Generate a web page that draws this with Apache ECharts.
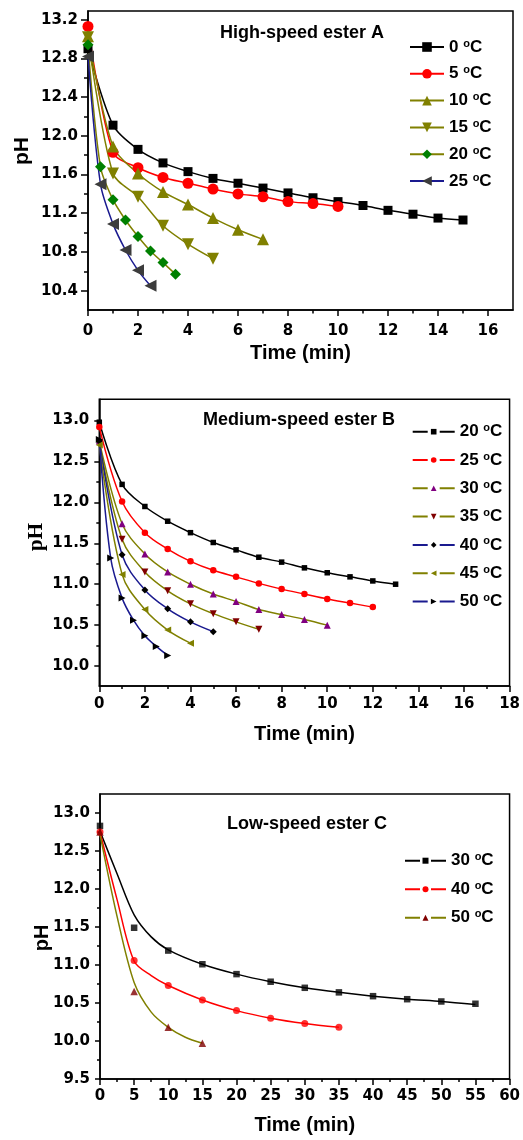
<!DOCTYPE html>
<html>
<head>
<meta charset="utf-8">
<script src="https://cdn.jsdelivr.net/npm/echarts@6/dist/echarts.min.js"></script>
<style>
  html, body { margin: 0; padding: 0; background: #fff; width: 523px; height: 1140px; overflow: hidden; }
  .panel { position: absolute; left: 0; width: 523px; }
</style>
</head>
<body>
<div id="panelA" class="panel" style="top:0;height:380px"></div>
<div id="panelB" class="panel" style="top:380px;height:385px"></div>
<div id="panelC" class="panel" style="top:765px;height:375px"></div>
<script>
// ---------- High-speed ester A ----------
const A_T_0 = [0, 1, 2, 3, 4, 5, 6, 7, 8, 9, 10, 11, 12, 13, 14, 15];
const A_PH_0 = [12.90, 12.11, 11.86, 11.72, 11.63, 11.56, 11.51, 11.46, 11.41, 11.36, 11.32, 11.28, 11.23, 11.19, 11.15, 11.13];
const A_T_5 = [0, 1, 2, 3, 4, 5, 6, 7, 8, 9, 10];
const A_PH_5 = [13.13, 11.83, 11.67, 11.57, 11.51, 11.45, 11.40, 11.37, 11.32, 11.30, 11.27];
const A_T_10 = [0, 1, 2, 3, 4, 5, 6, 7];
const A_PH_10 = [13.03, 11.89, 11.61, 11.42, 11.29, 11.15, 11.03, 10.93];
const A_T_15 = [0, 1, 2, 3, 4, 5];
const A_PH_15 = [13.02, 11.61, 11.37, 11.07, 10.88, 10.73];
const A_T_20 = [0, 0.5, 1, 1.5, 2, 2.5, 3, 3.5];
const A_PH_20 = [12.94, 11.68, 11.34, 11.13, 10.96, 10.81, 10.69, 10.57];
const A_T_25 = [0, 0.5, 1, 1.5, 2, 2.5];
const A_PH_25 = [12.82, 11.50, 11.09, 10.82, 10.61, 10.45];
const A_X_TICKS = [0, 2, 4, 6, 8, 10, 12, 14, 16];
const A_X_MINOR = [1, 3, 5, 7, 9, 11, 13, 15];
const A_Y_TICKS = [10.4, 10.8, 11.2, 11.6, 12.0, 12.4, 12.8, 13.2];
const A_Y_MINOR = [10.6, 11.0, 11.4, 11.8, 12.2, 12.6, 13.0];

// ---------- Medium-speed ester B ----------
const B_T_20 = [0, 1, 2, 3, 4, 5, 6, 7, 8, 9, 10, 11, 12, 13];
const B_PH_20 = [12.98, 12.22, 11.95, 11.77, 11.63, 11.51, 11.42, 11.33, 11.27, 11.20, 11.14, 11.09, 11.04, 11.00];
const B_T_25 = [0, 1, 2, 3, 4, 5, 6, 7, 8, 9, 10, 11, 12];
const B_PH_25 = [12.92, 12.01, 11.63, 11.43, 11.28, 11.17, 11.09, 11.01, 10.94, 10.88, 10.82, 10.77, 10.72];
const B_T_30 = [0, 1, 2, 3, 4, 5, 6, 7, 8, 9, 10];
const B_PH_30 = [12.75, 11.74, 11.37, 11.15, 11.00, 10.88, 10.79, 10.69, 10.63, 10.57, 10.50];
const B_T_35 = [0, 1, 2, 3, 4, 5, 6, 7];
const B_PH_35 = [12.73, 11.55, 11.15, 10.92, 10.76, 10.64, 10.54, 10.45];
const B_T_40 = [0, 1, 2, 3, 4, 5];
const B_PH_40 = [12.75, 11.36, 10.93, 10.70, 10.54, 10.42];
const B_T_45 = [0, 1, 2, 3, 4];
const B_PH_45 = [12.70, 11.12, 10.69, 10.44, 10.28];
const B_T_50 = [0, 0.5, 1, 1.5, 2, 2.5, 3];
const B_PH_50 = [12.77, 11.32, 10.83, 10.56, 10.37, 10.24, 10.13];
const B_X_TICKS = [0, 2, 4, 6, 8, 10, 12, 14, 16, 18];
const B_X_MINOR = [1, 3, 5, 7, 9, 11, 13, 15, 17];
const B_Y_TICKS = [10.0, 10.5, 11.0, 11.5, 12.0, 12.5, 13.0];
const B_Y_MINOR = [10.25, 10.75, 11.25, 11.75, 12.25, 12.75];

// ---------- Low-speed ester C (measured points and fitted curves) ----------
const C_T_30 = [0, 5, 10, 15, 20, 25, 30, 35, 40, 45, 50, 55];
const C_PH_30 = [12.83, 11.49, 11.19, 11.01, 10.88, 10.78, 10.70, 10.64, 10.59, 10.55, 10.52, 10.49];
const C_T_40 = [0, 5, 10, 15, 20, 25, 30, 35];
const C_PH_40 = [12.75, 11.06, 10.73, 10.54, 10.40, 10.30, 10.23, 10.18];
const C_T_50 = [0, 5, 10, 15];
const C_PH_50 = [12.75, 10.65, 10.18, 9.97];
const C_FIT_T_30 = [0, 2.5, 5, 7.5, 10, 15, 20, 25, 30, 35, 40, 45, 50, 55];
const C_FIT_30 = [12.76, 12.20, 11.66, 11.37, 11.20, 11.01, 10.88, 10.78, 10.70, 10.64, 10.59, 10.55, 10.52, 10.48];
const C_FIT_T_40 = [0, 2.5, 5, 7.5, 10, 15, 20, 25, 30, 35];
const C_FIT_40 = [12.75, 11.86, 11.05, 10.86, 10.73, 10.54, 10.40, 10.30, 10.23, 10.18];
const C_FIT_T_50 = [0, 2.5, 5, 7.5, 10, 12.5, 15];
const C_FIT_50 = [12.72, 11.64, 10.77, 10.38, 10.18, 10.05, 9.97];
const C_X_TICKS = [0, 5, 10, 15, 20, 25, 30, 35, 40, 45, 50, 55, 60];
const C_X_MINOR = [2.5, 7.5, 12.5, 17.5, 22.5, 27.5, 32.5, 37.5, 42.5, 47.5, 52.5, 57.5];
const C_Y_TICKS = [9.5, 10.0, 10.5, 11.0, 11.5, 12.0, 12.5, 13.0];
const C_Y_MINOR = [9.75, 10.25, 10.75, 11.25, 11.75, 12.25, 12.75];

const SANS = '"Liberation Sans", Arial, Helvetica, sans-serif';
const WIDE = '"DejaVu Sans", Verdana, sans-serif';
const SERIF = '"Liberation Serif", "Times New Roman", serif';
const BLACK = '#000000', RED = '#ff0000', OLIVE = '#808000', GREEN = '#008000',
      NAVY = '#1a1a8f', GRAY = '#3c3c3c', PURPLE = '#800080', MAROON = '#800000';

const pairs = (t, v) => t.map((x, i) => [x, v[i]]);

// Main axis (labels + major ticks) and an overlaid axis carrying the minor ticks.
function axes(kind, min, max, majors, minors, cfg) {
  const base = {
    type: 'value', min, max, gridIndex: 0, offset: 0,
    position: kind === 'x' ? 'bottom' : 'left',
    splitLine: { show: false }, silent: true
  };
  const main = Object.assign({}, base, {
    axisLine: { show: true, onZero: false, lineStyle: { color: BLACK, width: 1.5 } },
    axisTick: { show: true, inside: false, customValues: majors, length: cfg.major,
                lineStyle: { color: BLACK, width: 1.5 } },
    axisLabel: { show: true, customValues: majors, margin: cfg.margin, formatter: cfg.fmt,
                 color: BLACK, fontSize: 15, fontWeight: 'bold', fontFamily: WIDE },
    name: cfg.name || '', nameLocation: 'middle', nameGap: cfg.nameGap || 0,
    nameTextStyle: { fontSize: 20, fontWeight: 'bold', fontFamily: SANS, color: BLACK }
  });
  const minor = Object.assign({}, base, {
    axisLine: { show: false, onZero: false },
    axisTick: { show: true, inside: false, customValues: minors, length: cfg.minor,
                lineStyle: { color: BLACK, width: 1.5 } },
    axisLabel: { show: false }
  });
  return [main, minor];
}

function lineSeries(name, t, v, o) {
  return {
    type: 'line', name, data: pairs(t, v),
    symbol: o.symbol, symbolSize: o.size, symbolRotate: o.rot || 0,
    showSymbol: o.showSymbol !== false,
    smooth: o.smooth,
    lineStyle: { color: o.line, width: 1.5 },
    itemStyle: { color: o.mark },
    animation: false, silent: true, clip: true
  };
}

function legendText(name) {
  const num = name.split(' ')[0];
  return '{t|' + num + ' }{o|o}{t|C}';
}

function legend(names, left, top, w, h, gap, dashed) {
  const lg = {
    data: names, orient: 'vertical', left, top, itemWidth: w, itemHeight: h, itemGap: gap,
    padding: 0, selectedMode: false, formatter: legendText,
    textStyle: {
      rich: {
        t: { fontSize: 17, fontWeight: 'bold', fontFamily: SANS, color: BLACK, lineHeight: 18 },
        o: { fontSize: 11, fontWeight: 'bold', fontFamily: SANS, color: BLACK, lineHeight: 18, verticalAlign: 'top' }
      }
    }
  };
  if (dashed) lg.lineStyle = { type: dashed };
  return lg;
}

function title(text, left, top) {
  return { text, left, top, padding: 0,
           textStyle: { fontSize: 18, fontWeight: 'bold', fontFamily: SANS, color: BLACK } };
}

function yName(x, y, font) {
  return { type: 'text', x, y, rotation: Math.PI / 2, silent: true,
           style: { text: 'pH', font, fill: BLACK, align: 'center', verticalAlign: 'middle' } };
}

const fmt1 = v => v.toFixed(1);
const fmt0 = v => String(v);

// ---------- Panel A ----------
const chartA = echarts.init(document.getElementById('panelA'), null, { renderer: 'canvas' });
const axA_x = axes('x', 0, 17, A_X_TICKS, A_X_MINOR, { major: 6, minor: 3.5, margin: 14, fmt: fmt0, name: 'Time (min)', nameGap: 27 });
const axA_y = axes('y', 10.2, 13.29, A_Y_TICKS, A_Y_MINOR, { major: 7, minor: 4, margin: 10, fmt: fmt1 });
chartA.setOption({
  animation: false,
  title: title('High-speed ester A', 220, 24),
  grid: { left: 88, top: 11, width: 425, height: 299, show: true, borderColor: BLACK, borderWidth: 1.5, containLabel: false },
  xAxis: axA_x, yAxis: axA_y,
  legend: legend(['0 °C', '5 °C', '10 °C', '15 °C', '20 °C', '25 °C'], 409, 38, 34, 12, 9.3, null),
  graphic: [yName(22, 151, 'bold 21px ' + SANS)],
  series: [
    lineSeries('0 °C', A_T_0, A_PH_0, { symbol: 'rect', size: 9, line: BLACK, mark: BLACK, smooth: 0.3 }),
    lineSeries('5 °C', A_T_5, A_PH_5, { symbol: 'circle', size: 11, line: RED, mark: RED, smooth: 0.3 }),
    lineSeries('10 °C', A_T_10, A_PH_10, { symbol: 'triangle', size: 12, line: OLIVE, mark: OLIVE, smooth: 0.3 }),
    lineSeries('15 °C', A_T_15, A_PH_15, { symbol: 'triangle', rot: 180, size: 12, line: OLIVE, mark: OLIVE, smooth: 0.3 }),
    lineSeries('20 °C', A_T_20, A_PH_20, { symbol: 'diamond', size: 11, line: OLIVE, mark: GREEN, smooth: 0.3 }),
    lineSeries('25 °C', A_T_25, A_PH_25, { symbol: 'triangle', rot: 90, size: 12, line: NAVY, mark: GRAY, smooth: 0.3 })
  ]
});

// ---------- Panel B ----------
const chartB = echarts.init(document.getElementById('panelB'), null, { renderer: 'canvas' });
const axB_x = axes('x', 0, 18, B_X_TICKS, B_X_MINOR, { major: 6, minor: 3, margin: 11, fmt: fmt0, name: 'Time (min)', nameGap: 38 });
const axB_y = axes('y', 9.756, 13.26, B_Y_TICKS, B_Y_MINOR, { major: 5, minor: 3, margin: 10, fmt: fmt1 });
chartB.setOption({
  animation: false,
  title: title('Medium-speed ester B', 203, 31),
  grid: { left: 99.3, top: 19.3, width: 414, height: 286.7, show: true, borderColor: BLACK, borderWidth: 1.5, containLabel: false },
  xAxis: axB_x, yAxis: axB_y,
  legend: legend(['20 °C', '25 °C', '30 °C', '35 °C', '40 °C', '45 °C', '50 °C'], 411.7, 42.7, 42, 7, 10.8, [15, 12]),
  graphic: [yName(37, 157, 'bold 21px ' + SERIF)],
  series: [
    lineSeries('20 °C', B_T_20, B_PH_20, { symbol: 'rect', size: 5.5, line: BLACK, mark: BLACK, smooth: 0.35 }),
    lineSeries('25 °C', B_T_25, B_PH_25, { symbol: 'circle', size: 6.5, line: RED, mark: RED, smooth: 0.35 }),
    lineSeries('30 °C', B_T_30, B_PH_30, { symbol: 'triangle', size: 7, line: OLIVE, mark: PURPLE, smooth: 0.35 }),
    lineSeries('35 °C', B_T_35, B_PH_35, { symbol: 'triangle', rot: 180, size: 7, line: OLIVE, mark: MAROON, smooth: 0.35 }),
    lineSeries('40 °C', B_T_40, B_PH_40, { symbol: 'diamond', size: 7, line: NAVY, mark: BLACK, smooth: 0.35 }),
    lineSeries('45 °C', B_T_45, B_PH_45, { symbol: 'triangle', rot: 90, size: 7, line: OLIVE, mark: OLIVE, smooth: 0.35 }),
    lineSeries('50 °C', B_T_50, B_PH_50, { symbol: 'triangle', rot: -90, size: 7, line: NAVY, mark: BLACK, smooth: 0.35 })
  ]
});

// ---------- Panel C ----------
const chartC = echarts.init(document.getElementById('panelC'), null, { renderer: 'canvas' });
const axC_x = axes('x', 0, 60, C_X_TICKS, C_X_MINOR, { major: 6, minor: 3, margin: 10, fmt: fmt0, name: 'Time (min)', nameGap: 36 });
const axC_y = axes('y', 9.5, 13.25, C_Y_TICKS, C_Y_MINOR, { major: 5, minor: 3, margin: 10, fmt: fmt1 });

function points(name, t, v, symbol, size, color, rot) {
  return { type: 'scatter', name, data: pairs(t, v), symbol, symbolSize: size, symbolRotate: rot || 0,
           itemStyle: { color }, animation: false, silent: true, z: 3 };
}

chartC.setOption({
  animation: false,
  title: title('Low-speed ester C', 227, 50),
  grid: { left: 100, top: 29, width: 411, height: 288.7, show: true, borderColor: BLACK, borderWidth: 1.5, containLabel: false },
  xAxis: axC_x, yAxis: axC_y,
  legend: legend(['30 °C', '40 °C', '50 °C'], 404, 86.7, 41, 7.5, 11, [15, 11]),
  graphic: [yName(42, 173, 'bold 20px ' + SANS)],
  series: [
    lineSeries('30 °C', C_FIT_T_30, C_FIT_30, { symbol: 'rect', size: 6.5, line: BLACK, mark: BLACK, smooth: 0.3, showSymbol: false }),
    lineSeries('40 °C', C_FIT_T_40, C_FIT_40, { symbol: 'circle', size: 7, line: RED, mark: RED, smooth: 0.3, showSymbol: false }),
    lineSeries('50 °C', C_FIT_T_50, C_FIT_50, { symbol: 'triangle', size: 7, line: OLIVE, mark: MAROON, smooth: 0.3, showSymbol: false }),
    points('30 °C data', C_T_30, C_PH_30, 'rect', 6.5, BLACK),
    points('40 °C data', C_T_40, C_PH_40, 'circle', 7, RED),
    points('50 °C data', C_T_50, C_PH_50, 'triangle', 7.5, MAROON)
  ]
});
</script>
</body>
</html>
